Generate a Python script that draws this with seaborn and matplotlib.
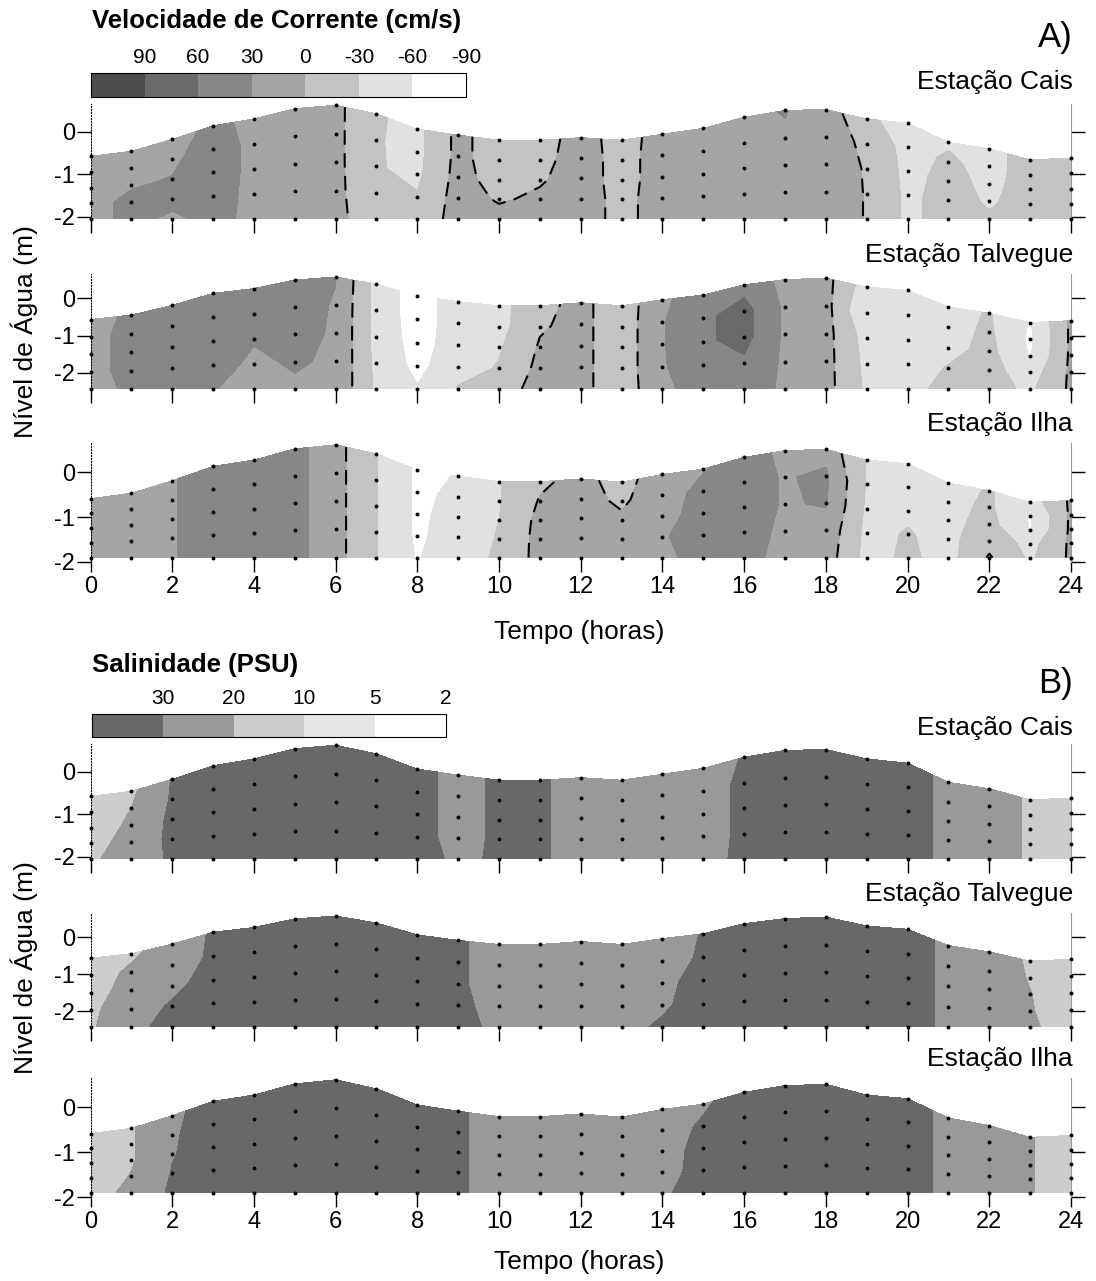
import numpy as np
import matplotlib
matplotlib.use("Agg")
import matplotlib.pyplot as plt
import seaborn as sns

# sampling hours and water level (m) at each station
HOURS = np.arange(25)
ETA_CAIS = [-0.58, -0.46, -0.18, 0.14, 0.30, 0.54, 0.62, 0.42, 0.06, -0.08, -0.20, -0.20, -0.14,
            -0.20, -0.06, 0.08, 0.34, 0.50, 0.52, 0.30, 0.20, -0.25, -0.40, -0.66, -0.62]
ETA_TALVEGUE = [-0.57, -0.45, -0.19, 0.13, 0.26, 0.49, 0.57, 0.38, 0.06, -0.09, -0.20, -0.20, -0.12,
                -0.20, -0.04, 0.09, 0.36, 0.50, 0.54, 0.30, 0.21, -0.23, -0.40, -0.65, -0.60]
ETA_ILHA = [-0.59, -0.47, -0.19, 0.13, 0.27, 0.52, 0.61, 0.41, 0.05, -0.09, -0.21, -0.21, -0.15,
            -0.22, -0.05, 0.07, 0.33, 0.48, 0.51, 0.27, 0.19, -0.24, -0.41, -0.67, -0.63]
BOTTOM_CAIS = -2.05
BOTTOM_TALVEGUE = -2.43
BOTTOM_ILHA = -1.9

# current velocity (cm/s), rows = 5 sampling levels from surface to bottom
VEL_CAIS = [
    [15, 18, 22, 35, 25, 20, 8, -27, -38, 8, -15, -10, 10, -10, 10, 18, 22, 32, 10, -15, -62, -33, -38, -20, -18],
    [15, 20, 26, 40, 25, 20, 8, -28, -38, 8, -15, -8, 12, -10, 12, 20, 22, 25, 18, -8, -40, -26, -38, -20, -18],
    [20, 28, 31, 40, 25, 20, 8, -28, -36, 10, -12, -3, 12, -10, 12, 20, 22, 22, 20, -3, -38, -22, -36, -20, -18],
    [22, 36, 36, 38, 25, 20, 8, -25, -28, 12, -3, 5, 12, -8, 12, 20, 22, 22, 20, -2, -36, -20, -33, -20, -18],
    [22, 36, 26, 36, 25, 20, 8, -18, -20, 12, 10, 10, 12, -8, 12, 20, 22, 22, 20, -2, -36, -20, -27, -20, -18],
]
VEL_TALVEGUE = [
    [20, 35, 40, 42, 42, 40, 31, -40, -75, -45, -40, -8, 8, -18, 25, 45, 50, 22, 10, -45, -45, -40, -28, -62, 5],
    [20, 40, 42, 45, 42, 40, 28, -40, -75, -45, -40, -3, 8, -18, 28, 55, 70, 25, 10, -61, -45, -40, -25, -65, 5],
    [20, 40, 42, 45, 32, 38, 27, -40, -72, -45, -33, 3, 8, -18, 28, 55, 70, 25, 10, -42, -45, -38, -22, -62, 5],
    [20, 40, 40, 40, 25, 33, 26, -38, -68, -40, -28, 8, 8, -18, 28, 45, 55, 25, 10, -38, -45, -28, -20, -45, 5],
    [20, 35, 38, 31, 22, 26, 24, -35, -58, -28, -15, 12, 8, -18, 25, 40, 45, 25, 10, -35, -40, -20, -20, -35, 5],
]
VEL_ILHA = [
    [20, 22, 28, 45, 45, 40, 10, -29, -65, -59, -32, -5, 8, -10, 15, 28, 40, 25, 20, -32, -40, -40, -28, -45, 5],
    [20, 22, 28, 45, 45, 40, 10, -29, -65, -55, -32, 2, 10, -5, 18, 38, 40, 28, 35, -32, -38, -38, -25, -63, 5],
    [20, 22, 28, 45, 45, 40, 10, -29, -65, -50, -30, 8, 12, 5, 20, 42, 40, 28, 32, -35, -35, -38, -20, -61, 5],
    [20, 22, 28, 45, 45, 40, 10, -29, -65, -45, -28, 10, 12, 10, 27, 45, 40, 25, 20, -38, -28, -38, -10, -40, 5],
    [20, 22, 28, 45, 45, 40, 10, -29, -62, -42, -26, 10, 12, 10, 25, 38, 38, 22, 15, -40, -25, -40, 3, -35, 5],
]

# salinity (PSU), rows = 5 sampling levels from surface to bottom
SAL_CAIS = [
    [12, 18, 30.5, 33, 34, 34, 34, 34, 32, 28, 31, 31, 27, 25, 25, 28, 30.3, 33, 33, 33, 33, 28, 24, 19, 16],
    [13, 20, 31, 33, 34, 34, 34, 34, 32, 28, 31, 31, 27, 25, 25, 28, 31, 33, 33, 33, 33, 28, 24, 19, 16],
    [14, 22, 32, 33, 34, 34, 34, 34, 32, 28, 31, 31, 27, 25, 25, 28, 31, 33, 33, 33, 33, 28, 24, 19, 16],
    [16, 24, 32, 33, 34, 34, 34, 34, 32, 28, 31, 31, 27, 25, 25, 28, 31, 33, 33, 33, 33, 28, 24, 19, 16],
    [18, 26, 31, 33, 34, 34, 34, 34, 33, 28.5, 31, 31, 27, 25, 25, 28.5, 31, 33, 33, 33, 33, 28, 24, 19, 16],
]
SAL_TALVEGUE = [
    [13, 18, 25, 31, 34, 34, 34, 34, 34, 31, 27, 27, 27, 27, 26, 30.5, 33, 33, 33, 33, 33, 28.5, 24, 19, 16],
    [15, 22, 27, 31, 34, 34, 34, 34, 34, 31, 27, 27, 27, 27, 27, 31, 33, 33, 33, 33, 33, 28.5, 24, 19.5, 16],
    [16, 24, 28, 33, 34, 34, 34, 34, 34, 31, 27, 27, 27, 27, 28, 33, 33, 33, 33, 33, 33, 28.5, 24, 20.2, 16],
    [18, 26, 31, 34, 34, 34, 34, 34, 34, 32, 27, 27, 27, 27, 29, 33, 33, 33, 33, 33, 33, 28.5, 24, 20.5, 16],
    [19, 26, 35, 35, 34, 34, 34, 34, 34, 32, 28.5, 27, 27, 28, 31, 33, 33, 33, 33, 33, 33, 28.5, 24, 21, 17],
]
SAL_ILHA = [
    [14, 19, 28, 34, 34, 34, 34, 34, 34, 31, 27, 27, 27, 27, 26, 29, 33, 33, 33, 33, 33, 28, 24, 20.5, 16],
    [14, 19, 29, 34, 34, 34, 34, 34, 34, 31, 27, 27, 27, 27, 27, 31, 33, 33, 33, 33, 33, 28, 24, 20.5, 16],
    [14, 19, 29.5, 34, 34, 34, 34, 34, 34, 31, 27, 27, 27, 27, 27.5, 32, 33, 33, 33, 33, 33, 28, 24, 20.5, 16],
    [14, 20.5, 30.5, 34, 34, 34, 34, 34, 34, 31, 27, 27, 27, 27, 28, 32, 33, 33, 33, 33, 33, 28, 24, 20.5, 16],
    [15, 23, 31.5, 34, 34, 34, 34, 34, 34, 31, 27, 27, 27, 27, 29, 33, 33, 33, 33, 33, 33, 28, 24, 20.5, 16],
]

# class limits and grey shades of the legends
VEL_LEVELS = [-90, -60, -30, 0, 30, 60, 90, 120]
VEL_COLORS = ["#ffffff", "#e1e1e1", "#c3c3c3", "#a5a5a5", "#878787", "#6a6a6a", "#4d4d4d"]
VEL_TICKS = [90, 60, 30, 0, -30, -60, -90]
SAL_LEVELS = [2, 5, 10, 20, 30, 40]
SAL_COLORS = ["#ffffff", "#e6e6e6", "#cccccc", "#999999", "#686868"]
SAL_TICKS = [30, 20, 10, 5, 2]

STATIONS = ["Estação Cais", "Estação Talvegue", "Estação Ilha"]

sns.set_style("ticks")
plt.rcParams["font.family"] = ["Liberation Sans", "DejaVu Sans"]
plt.rcParams["axes.unicode_minus"] = False
plt.rcParams["text.color"] = "black"
plt.rcParams["axes.labelcolor"] = "black"
plt.rcParams["xtick.color"] = "black"
plt.rcParams["ytick.color"] = "black"

W, H = 1096, 1281
fig = plt.figure(figsize=(W / 100, H / 100), dpi=100)


def px_axes(left, top, right, bottom):
    return fig.add_axes([left / W, 1 - bottom / H, (right - left) / W, (bottom - top) / H])


def ftext(x, y, s, **kw):
    fig.text(x / W, 1 - y / H, s, **kw)


def draw_section(ax, eta, bottom, values, levels, colors, zero_line, show_xlabels):
    eta = np.asarray(eta, float)
    sig = np.linspace(0, 1, 5)[:, None]
    X = np.tile(HOURS, (5, 1))
    Z = eta[None, :] + sig * (bottom - eta[None, :])
    V = np.asarray(values, float)
    cf = ax.contourf(X, Z, V, levels=levels, colors=colors)
    if zero_line:
        ax.contour(X, Z, V, levels=[0], colors="black", linewidths=1.5,
                   linestyles=[(0, (7, 4))])
    sns.scatterplot(x=X.ravel(), y=Z.ravel(), ax=ax, s=8, color="black",
                    linewidth=0, legend=False, zorder=5, clip_on=False)
    ymin = min(bottom, -2.0)
    ax.set_xlim(0, 24)
    ax.set_ylim(ymin, 0.65)
    ax.set_xticks(range(0, 25, 2))
    ax.set_yticks([0, -1, -2])
    ax.set_xlabel("")
    ax.set_ylabel("")
    ax.tick_params(axis="both", direction="out", length=10, width=1, colors="black", labelsize=17)
    ax.tick_params(axis="y", left=True, right=True, labelleft=True, labelright=False, pad=1)
    ax.tick_params(axis="x", bottom=True, labelbottom=show_xlabels, pad=3)
    ax.spines["top"].set_visible(False)
    ax.spines["bottom"].set_position(("data", bottom))
    ax.spines["bottom"].set_visible(False)
    ax.spines["left"].set_linestyle(":")
    ax.spines["left"].set_linewidth(0.8)
    ax.spines["left"].set_color("black")
    ax.spines["right"].set_linewidth(0.8)
    ax.spines["right"].set_color("#999999")
    ax.set_facecolor("none")
    return cf


def draw_legend(cf, box, ticks):
    cax = px_axes(*box)
    cb = fig.colorbar(cf, cax=cax, orientation="horizontal", ticks=ticks, drawedges=True)
    cax.invert_xaxis()
    cax.xaxis.set_ticks_position("top")
    cb.set_ticklabels([str(t) for t in ticks])
    cax.tick_params(length=0, labelsize=15, pad=4)
    cb.outline.set_linewidth(0.8)
    cb.outline.set_edgecolor("black")
    cb.dividers.set_color("black")
    cb.dividers.set_linewidth(0.8)


etas = [ETA_CAIS, ETA_TALVEGUE, ETA_ILHA]
bottoms = [BOTTOM_CAIS, BOTTOM_TALVEGUE, BOTTOM_ILHA]

# A) current velocity
a_rows = [(104, 219), (274, 389), (443, 562)]
a_labels_y = [82, 255, 424]
cf_vel = None
for i, (vals, (top, bot)) in enumerate(zip([VEL_CAIS, VEL_TALVEGUE, VEL_ILHA], a_rows)):
    ax = px_axes(90.5, top, 1071, bot)
    cf = draw_section(ax, etas[i], bottoms[i], vals, VEL_LEVELS, VEL_COLORS, True, i == 2)
    if cf_vel is None:
        cf_vel = cf
    ftext(1073, a_labels_y[i], STATIONS[i], fontsize=19, ha="right", va="center")

draw_legend(cf_vel, (91, 73, 466, 97), VEL_TICKS)
ftext(92, 21, "Velocidade de Corrente (cm/s)", fontsize=18.5, fontweight="bold", ha="left", va="center")
ftext(1073, 38, "A)", fontsize=25, ha="right", va="center")
ftext(24, 332, "Nível de Água (m)", fontsize=19, rotation=90, ha="center", va="center")
ftext(579, 632, "Tempo (horas)", fontsize=19, ha="center", va="center")

# B) salinity
b_rows = [(744, 859), (913, 1027), (1078, 1197)]
b_labels_y = [728, 894, 1059]
cf_sal = None
for i, (vals, (top, bot)) in enumerate(zip([SAL_CAIS, SAL_TALVEGUE, SAL_ILHA], b_rows)):
    ax = px_axes(90.5, top, 1071, bot)
    cf = draw_section(ax, etas[i], bottoms[i], vals, SAL_LEVELS, SAL_COLORS, False, i == 2)
    if cf_sal is None:
        cf_sal = cf
    ftext(1073, b_labels_y[i], STATIONS[i], fontsize=19, ha="right", va="center")

draw_legend(cf_sal, (92, 714, 446, 737), SAL_TICKS)
ftext(92, 665, "Salinidade (PSU)", fontsize=18.5, fontweight="bold", ha="left", va="center")
ftext(1073, 684, "B)", fontsize=25, ha="right", va="center")
ftext(24, 968, "Nível de Água (m)", fontsize=19, rotation=90, ha="center", va="center")
ftext(579, 1262, "Tempo (horas)", fontsize=19, ha="center", va="center")

fig.savefig("out.png", dpi=100)
